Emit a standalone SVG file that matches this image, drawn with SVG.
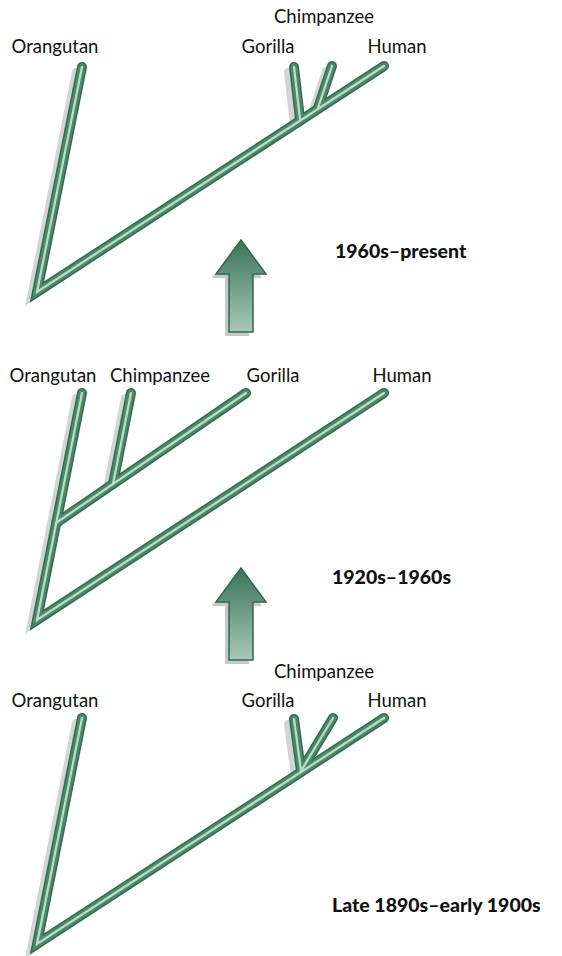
<svg xmlns="http://www.w3.org/2000/svg" xmlns:xlink="http://www.w3.org/1999/xlink" width="562" height="956" viewBox="0 0 562 956">
<style>
.lbl{font-family:Lato,"Open Sans","Liberation Sans",sans-serif;font-size:18.5px;fill:#111}
.era{font-family:Lato,"Open Sans","Liberation Sans",sans-serif;font-size:19.5px;font-weight:900;fill:#111}
.sh{fill:none;stroke:#d4d4d4;stroke-width:8;stroke-linecap:round;stroke-linejoin:miter;stroke-miterlimit:20}
.b1{fill:none;stroke:#336c51;stroke-width:10;stroke-linecap:round;stroke-linejoin:miter;stroke-miterlimit:20}
.b2{fill:none;stroke:#4b8a6a;stroke-width:7;stroke-linecap:round;stroke-linejoin:miter;stroke-miterlimit:20}
.b3{fill:none;stroke:#bfdccb;stroke-width:2.2;stroke-linecap:round;stroke-linejoin:miter;stroke-miterlimit:20}
.arr{fill:url(#ag);stroke:#2f6a4e;stroke-width:1.5}
.arrsh{fill:#c8c8c8}
</style>
<defs>
<linearGradient id="ag" x1="0" y1="0" x2="0" y2="1">
<stop offset="0" stop-color="#3a7458"/>
<stop offset="1" stop-color="#a9c8b7"/>
</linearGradient>
<path id="t1v" d="M82,67 L37,292 L384,66"/>
<path id="t1g" d="M294,67 L300,119"/>
<path id="t1c" d="M332,66 L318,108"/>
<path id="t2v" d="M82,393 L37,620 L384,393"/>
<path id="t2g" d="M56,523 L246,393"/>
<path id="t2c" d="M131,393 L113,484"/>
<path id="t3v" d="M82,718 L37,944 L384,718"/>
<path id="t3g" d="M294,719 L301,771"/>
<path id="t3c" d="M333,718 L301,771"/>
<path id="arrow" d="M241,0 L266,34 L253,34 L253,92 L229,92 L229,34 L216,34 Z"/>
</defs>

<g id="connectors">
<g id="shadows" transform="translate(-6,5)">
<use xlink:href="#t1v" class="sh"/><use xlink:href="#t1g" class="sh"/><use xlink:href="#t1c" class="sh"/>
<use xlink:href="#t2v" class="sh"/><use xlink:href="#t2g" class="sh"/><use xlink:href="#t2c" class="sh"/>
<use xlink:href="#t3v" class="sh"/><use xlink:href="#t3g" class="sh"/>
</g>
<g id="tree-top">
<use xlink:href="#t1v" class="b1"/><use xlink:href="#t1g" class="b1"/><use xlink:href="#t1c" class="b1"/>
<use xlink:href="#t1v" class="b2"/><use xlink:href="#t1g" class="b2"/><use xlink:href="#t1c" class="b2"/>
<use xlink:href="#t1v" class="b3"/><use xlink:href="#t1g" class="b3"/><use xlink:href="#t1c" class="b3"/>
</g>
<g id="tree-middle">
<use xlink:href="#t2v" class="b1"/><use xlink:href="#t2g" class="b1"/><use xlink:href="#t2c" class="b1"/>
<use xlink:href="#t2v" class="b2"/><use xlink:href="#t2g" class="b2"/><use xlink:href="#t2c" class="b2"/>
<use xlink:href="#t2v" class="b3"/><use xlink:href="#t2g" class="b3"/><use xlink:href="#t2c" class="b3"/>
</g>
<g id="tree-bottom">
<use xlink:href="#t3v" class="b1"/><use xlink:href="#t3g" class="b1"/><use xlink:href="#t3c" class="b1"/>
<use xlink:href="#t3v" class="b2"/><use xlink:href="#t3g" class="b2"/><use xlink:href="#t3c" class="b2"/>
<use xlink:href="#t3v" class="b3"/><use xlink:href="#t3g" class="b3"/><use xlink:href="#t3c" class="b3"/>
</g>
</g>

<g id="arrow-upper">
<use xlink:href="#arrow" class="arrsh" transform="translate(-4,244)"/>
<use xlink:href="#arrow" class="arr" transform="translate(0,240)"/>
</g>
<g id="arrow-lower">
<use xlink:href="#arrow" class="arrsh" transform="translate(-4,572)"/>
<use xlink:href="#arrow" class="arr" transform="translate(0,568)"/>
</g>

<g id="top-labels">
<text class="lbl" x="55" y="53" text-anchor="middle">Orangutan</text>
<text class="lbl" x="324" y="23" text-anchor="middle">Chimpanzee</text>
<text class="lbl" x="268" y="53" text-anchor="middle">Gorilla</text>
<text class="lbl" x="397" y="53" text-anchor="middle">Human</text>
<text class="era" x="335" y="258">1960s–present</text>
</g>
<g id="middle-labels">
<text class="lbl" x="53" y="382" text-anchor="middle">Orangutan</text>
<text class="lbl" x="160" y="382" text-anchor="middle">Chimpanzee</text>
<text class="lbl" x="273" y="382" text-anchor="middle">Gorilla</text>
<text class="lbl" x="402" y="382" text-anchor="middle">Human</text>
<text class="era" x="332" y="584">1920s–1960s</text>
</g>
<g id="bottom-labels">
<text class="lbl" x="55" y="707" text-anchor="middle">Orangutan</text>
<text class="lbl" x="324" y="678" text-anchor="middle">Chimpanzee</text>
<text class="lbl" x="268" y="707" text-anchor="middle">Gorilla</text>
<text class="lbl" x="397" y="707" text-anchor="middle">Human</text>
<text class="era" x="332" y="912">Late 1890s–early 1900s</text>
</g>
</svg>
